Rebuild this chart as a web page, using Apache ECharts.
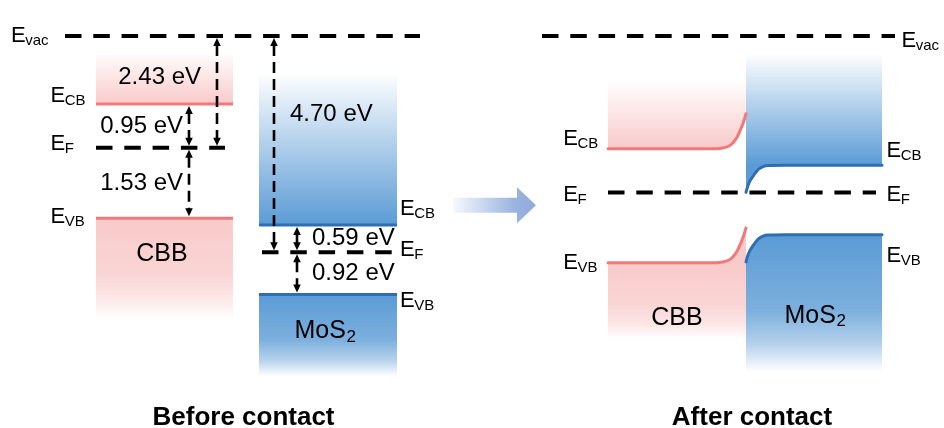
<!DOCTYPE html>
<html>
<head>
<meta charset="utf-8">
<title>CBB / MoS2 band alignment</title>
<script src="https://cdn.jsdelivr.net/npm/echarts@6/dist/echarts.min.js"></script>
<style>
  html, body { margin: 0; padding: 0; background: #fff; }
  #chart { width: 944px; height: 428px; }
</style>
</head>
<body>
<div id="chart"></div>
<script>
// ---------------- Band data (eV) ----------------
const materials = ['CBB', 'MoS'];                // MoS is followed by subscript 2
const workFunctions = [2.43, 4.70];              // E_vac - E_F before contact
const cbAboveFermi = [0.95, 0.59];               // E_CB - E_F
const vbBelowFermi = [1.53, 0.92];               // E_F - E_VB
const fermiAfterContact = -3.40;                 // common E_F after contact, vs. E_vac

// Band bending at the junction: distance from the interface and band shift (eV)
const cbbBendDistance = [0, 2.5, 5, 9, 13, 17, 22, 30, 50, 138];
const cbbBendShift    = [0.76, 0.58, 0.44, 0.25, 0.13, 0.06, 0.022, 0, 0, 0];
const mos2BendDistance = [0, 2, 4, 6.7, 10, 13, 17, 22, 40, 136];
const mos2BendShift    = [0.59, 0.44, 0.34, 0.25, 0.15, 0.08, 0.03, 0.005, 0, 0];

// ---------------- Derived levels ----------------
const fermiBefore = workFunctions.map(w => -w);
const cbBefore = fermiBefore.map((f, i) => f + cbAboveFermi[i]);
const vbBefore = fermiBefore.map((f, i) => f - vbBelowFermi[i]);
const cbAfter = cbAboveFermi.map(d => fermiAfterContact + d);
const vbAfter = vbBelowFermi.map(d => fermiAfterContact - d);

// ---------------- Layout (horizontal positions, band extents) ----------------
const L = {
  vacBefore: [65, 420], vacAfter: [542, 895],
  cbbBefore: [96, 233], mos2Before: [259, 397],
  fermiCbbBefore: [96, 225], fermiMos2Before: [262, 392],
  junction: 746, cbbAfterLeft: 608, mos2AfterRight: 882, fermiAfter: [608, 876],
  arrowWfCbb: 217, arrowWfMos2: 274, arrowGapCbb: 189, arrowGapMos2: 297,
  // fill extents (energy of faded edges)
  cbbBeforeTop: -0.35, cbbBeforeBottom: -6.15,
  mos2BeforeTop: -0.85, mos2BeforeBottom: -7.4,
  cbbAfterTop: -0.96, cbbAfterBottom: -6.6,
  mos2AfterTop: -0.42, mos2AfterBottom: -7.3,
  bigArrow: { x: [453, 517, 536], e: -3.68, shaftHalf: 7.5, headHalf: 18 }
};

const FONT = '"Liberation Sans", Arial, Helvetica, sans-serif';
const PINK_LINE = '#F3787A';
const BLUE_LINE = '#2F6EB4';
const PINK = '249,202,202';
const BLUE = '91,155,213';
const DASH_LEVEL = [16.5, 11.8];

// band-bending curves after contact (ascending x)
const cbbCbCurve = cbbBendDistance.map((d, i) => [L.junction - d, cbAfter[0] + cbbBendShift[i]]).reverse();
const cbbVbCurve = cbbBendDistance.map((d, i) => [L.junction - d, vbAfter[0] + cbbBendShift[i]]).reverse();
const mos2CbCurve = mos2BendDistance.map((d, i) => [L.junction + d, cbAfter[1] - mos2BendShift[i]]);
const mos2VbCurve = mos2BendDistance.map((d, i) => [L.junction + d, vbAfter[1] - mos2BendShift[i]]);

// ---------------- Fill regions ----------------
// each: polygon in (x, E), gradient from eFrom (opaque) to eTo (transparent)
function upperFill(x0, x1, eTop, edge, eLine, rgb) {
  const pts = [[x0, eTop], [x1, eTop]].concat(edge.slice().reverse());
  return { pts, eFrom: eLine, eTo: eTop, rgb, kind: 'upper' };
}
function lowerFill(x0, x1, eBottom, edge, eLine, rgb) {
  const pts = edge.slice().concat([[x1, eBottom], [x0, eBottom]]);
  return { pts, eFrom: eLine, eTo: eBottom, rgb, kind: 'lower' };
}
const flat = (x0, x1, e) => [[x0, e], [x1, e]];
const fills = [
  upperFill(L.cbbBefore[0], L.cbbBefore[1], L.cbbBeforeTop, flat(L.cbbBefore[0], L.cbbBefore[1], cbBefore[0]), cbBefore[0], PINK),
  lowerFill(L.cbbBefore[0], L.cbbBefore[1], L.cbbBeforeBottom, flat(L.cbbBefore[0], L.cbbBefore[1], vbBefore[0]), vbBefore[0], PINK),
  upperFill(L.mos2Before[0], L.mos2Before[1], L.mos2BeforeTop, flat(L.mos2Before[0], L.mos2Before[1], cbBefore[1]), cbBefore[1], BLUE),
  lowerFill(L.mos2Before[0], L.mos2Before[1], L.mos2BeforeBottom, flat(L.mos2Before[0], L.mos2Before[1], vbBefore[1]), vbBefore[1], BLUE),
  upperFill(L.cbbAfterLeft, L.junction, L.cbbAfterTop, cbbCbCurve, cbAfter[0], PINK),
  lowerFill(L.cbbAfterLeft, L.junction, L.cbbAfterBottom, cbbVbCurve, vbAfter[0], PINK),
  upperFill(L.junction, L.mos2AfterRight, L.mos2AfterTop, mos2CbCurve, cbAfter[1], BLUE),
  lowerFill(L.junction, L.mos2AfterRight, L.mos2AfterBottom, mos2VbCurve, vbAfter[1], BLUE)
];

// ---------------- Arrows with values ----------------
const arrowRows = [
  [L.arrowWfCbb, 0, fermiBefore[0]],
  [L.arrowWfMos2, 0, fermiBefore[1]],
  [L.arrowGapCbb, cbBefore[0], fermiBefore[0]],
  [L.arrowGapCbb, fermiBefore[0], vbBefore[0]],
  [L.arrowGapMos2, cbBefore[1], fermiBefore[1]],
  [L.arrowGapMos2, fermiBefore[1], vbBefore[1]]
];
const arrowValues = [workFunctions[0], workFunctions[1], cbAboveFermi[0], vbBelowFermi[0], cbAboveFermi[1], vbBelowFermi[1]];
const arrowLabelPlace = [
  { align: 'right', dx: -16, dy: -15 },
  { align: 'left', dx: 16, dy: -30 },
  { align: 'right', dx: -6, dy: 0 },
  { align: 'right', dx: -6, dy: 0 },
  { align: 'left', dx: 15, dy: 0 },
  { align: 'left', dx: 15, dy: 0 }
];

// ---------------- Level labels ----------------
const levelLabels = [
  { x: 11, e: 0, sub: 'vac', dy: 0 },
  { x: 50.5, e: cbBefore[0], sub: 'CB', dy: -8 },
  { x: 50.5, e: fermiBefore[0], sub: 'F', dy: -4 },
  { x: 50.5, e: vbBefore[0], sub: 'VB', dy: -1 },
  { x: 400, e: cbBefore[1], sub: 'CB', dy: -16 },
  { x: 400, e: fermiBefore[1], sub: 'F', dy: -2 },
  { x: 400, e: vbBefore[1], sub: 'VB', dy: 6 },
  { x: 901.5, e: 0, sub: 'vac', dy: 5 },
  { x: 563.3, e: cbAfter[0], sub: 'CB', dy: -10 },
  { x: 563.3, e: fermiAfterContact, sub: 'F', dy: 2.5 },
  { x: 563.3, e: vbAfter[0], sub: 'VB', dy: 0 },
  { x: 886.5, e: cbAfter[1], sub: 'CB', dy: -14 },
  { x: 886.5, e: fermiAfterContact, sub: 'F', dy: 2.5 },
  { x: 886.5, e: vbAfter[1], sub: 'VB', dy: 21 }
];
const nameLabels = [
  { cx: 162, e: vbBefore[0], dy: 36, name: 0 },
  { cx: 325, e: vbBefore[1], dy: 37, name: 1 },
  { cx: 677, e: vbAfter[0], dy: 55, name: 0 },
  { cx: 815, e: vbAfter[1], dy: 81, name: 1 }
];

// ---------------- Series helpers ----------------
function levelLine(data, color, width, dash, z) {
  return {
    type: 'line', data, symbol: 'none', silent: true, animation: false, z: z || 3,
    lineStyle: { color, width, type: dash || 'solid', cap: 'butt' }
  };
}
function curveLine(data, color) {
  return {
    type: 'line', data, symbol: 'none', silent: true, animation: false, z: 3,
    smooth: 0.35,
    lineStyle: { color, width: 3, cap: 'round' }
  };
}

const chart = echarts.init(document.getElementById('chart'), null, { renderer: 'canvas' });

const series = [
  // gradient-filled band regions
  {
    type: 'custom', silent: true, animation: false, z: 1,
    data: fills.map((f, i) => [i]),
    renderItem(params, api) {
      const f = fills[params.dataIndex];
      const pts = f.pts.map(p => api.coord(p));
      const yFrom = api.coord([0, f.eFrom])[1];
      const yTo = api.coord([0, f.eTo])[1];
      const stops = f.kind === 'upper'
        ? [{ offset: 0, color: `rgba(${f.rgb},1)` }, { offset: 0.45, color: `rgba(${f.rgb},0.56)` }, { offset: 1, color: `rgba(${f.rgb},0.02)` }]
        : [{ offset: 0, color: `rgba(${f.rgb},1)` }, { offset: 0.55, color: `rgba(${f.rgb},0.8)` }, { offset: 0.8, color: `rgba(${f.rgb},0.45)` }, { offset: 1, color: `rgba(${f.rgb},0)` }];
      return {
        type: 'polygon',
        shape: { points: pts },
        style: { fill: new echarts.graphic.LinearGradient(0, yFrom, 0, yTo, stops, true) }
      };
    }
  },
  // vacuum and Fermi levels
  levelLine(flat(L.vacBefore[0], L.vacBefore[1], 0), '#000', 4, DASH_LEVEL),
  levelLine(flat(L.vacAfter[0], L.vacAfter[1], 0), '#000', 4, DASH_LEVEL),
  levelLine(flat(L.fermiCbbBefore[0], L.fermiCbbBefore[1], fermiBefore[0]), '#000', 4, DASH_LEVEL),
  levelLine(flat(L.fermiMos2Before[0], L.fermiMos2Before[1], fermiBefore[1]), '#000', 4, DASH_LEVEL),
  levelLine(flat(L.fermiAfter[0], L.fermiAfter[1], fermiAfterContact), '#000', 4, DASH_LEVEL),
  // band edges before contact
  levelLine(flat(L.cbbBefore[0], L.cbbBefore[1], cbBefore[0]), PINK_LINE, 3),
  levelLine(flat(L.cbbBefore[0], L.cbbBefore[1], vbBefore[0]), PINK_LINE, 3),
  levelLine(flat(L.mos2Before[0], L.mos2Before[1], cbBefore[1]), BLUE_LINE, 3),
  levelLine(flat(L.mos2Before[0], L.mos2Before[1], vbBefore[1]), BLUE_LINE, 3),
  // bent bands after contact
  curveLine(cbbCbCurve, PINK_LINE),
  curveLine(cbbVbCurve, PINK_LINE),
  curveLine(mos2CbCurve, BLUE_LINE),
  curveLine(mos2VbCurve, BLUE_LINE),
  // energy arrows with values
  {
    type: 'custom', silent: true, animation: false, z: 5,
    data: arrowRows,
    renderItem(params, api) {
      const i = params.dataIndex;
      const x = api.coord([api.value(0), 0])[0];
      const y1 = api.coord([0, api.value(1)])[1];
      const y2 = api.coord([0, api.value(2)])[1];
      const t1 = y1 + 2, t2 = y2 - 2, hh = 8, hw = 3.8;
      const place = arrowLabelPlace[i];
      return {
        type: 'group',
        children: [
          { type: 'line', shape: { x1: x, y1: t1 + hh - 1, x2: x, y2: t2 - hh + 1 },
            style: { stroke: '#000', lineWidth: 2.6, lineDash: [11, 6] } },
          { type: 'polygon', shape: { points: [[x, t1], [x - hw, t1 + hh], [x + hw, t1 + hh]] }, style: { fill: '#000' } },
          { type: 'polygon', shape: { points: [[x, t2], [x - hw, t2 - hh], [x + hw, t2 - hh]] }, style: { fill: '#000' } },
          { type: 'text', x: x + place.dx, y: (y1 + y2) / 2 + place.dy,
            style: { text: arrowValues[i].toFixed(2) + ' eV', fontSize: 24, fontFamily: FONT, fill: '#000',
                     align: place.align, verticalAlign: 'middle' } }
        ]
      };
    }
  },
  // level labels E_xx
  {
    type: 'custom', silent: true, animation: false, z: 6,
    data: levelLabels.map(l => [l.x, l.e]),
    renderItem(params, api) {
      const l = levelLabels[params.dataIndex];
      const p = api.coord([api.value(0), api.value(1)]);
      const y = p[1] + l.dy;
      return {
        type: 'group',
        children: [
          { type: 'text', x: p[0], y, style: { text: 'E', fontSize: 22, fontFamily: FONT, fill: '#000', align: 'left', verticalAlign: 'middle' } },
          { type: 'text', x: p[0] + 14.2, y: y + 5, style: { text: l.sub, fontSize: 15, fontFamily: FONT, fill: '#000', align: 'left', verticalAlign: 'middle' } }
        ]
      };
    }
  },
  // material names
  {
    type: 'custom', silent: true, animation: false, z: 6,
    data: nameLabels.map(n => [n.cx, n.e]),
    renderItem(params, api) {
      const n = nameLabels[params.dataIndex];
      const p = api.coord([api.value(0), api.value(1)]);
      const y = p[1] + n.dy;
      if (n.name === 0) {
        return { type: 'text', x: p[0], y, style: { text: materials[0], fontSize: 25, fontFamily: FONT, fill: '#000', align: 'center', verticalAlign: 'middle' } };
      }
      const left = p[0] - 30.5;
      return {
        type: 'group',
        children: [
          { type: 'text', x: left, y, style: { text: materials[1], fontSize: 25, fontFamily: FONT, fill: '#000', align: 'left', verticalAlign: 'middle' } },
          { type: 'text', x: left + 52, y: y + 6, style: { text: '2', fontSize: 17, fontFamily: FONT, fill: '#000', align: 'left', verticalAlign: 'middle' } }
        ]
      };
    }
  },
  // transition arrow between the two diagrams
  {
    type: 'custom', silent: true, animation: false, z: 2,
    data: [[L.bigArrow.x[0], L.bigArrow.e]],
    renderItem(params, api) {
      const a = L.bigArrow;
      const yc = api.coord([0, api.value(1)])[1];
      const x0 = api.coord([api.value(0), 0])[0];
      const xn = api.coord([a.x[1], 0])[0];
      const xt = api.coord([a.x[2], 0])[0];
      return {
        type: 'polygon',
        shape: { points: [[x0, yc - a.shaftHalf], [xn, yc - a.shaftHalf], [xn, yc - a.headHalf], [xt, yc],
                          [xn, yc + a.headHalf], [xn, yc + a.shaftHalf], [x0, yc + a.shaftHalf]] },
        style: { fill: new echarts.graphic.LinearGradient(0, 0, 1, 0, [
          { offset: 0, color: 'rgba(143,170,220,0.08)' },
          { offset: 0.75, color: 'rgba(143,170,220,0.9)' },
          { offset: 1, color: 'rgba(143,170,220,1)' }
        ]) }
      };
    }
  }
];

chart.setOption({
  backgroundColor: '#fff',
  animation: false,
  grid: { left: 0, right: 0, top: 13, height: 414 },
  xAxis: { type: 'value', min: 0, max: 944, show: false, splitLine: { show: false }, axisLabel: { show: false } },
  yAxis: { type: 'value', min: -8.5, max: 0.5, show: false, splitLine: { show: false }, axisLabel: { show: false } },
  graphic: [
    { type: 'text', x: 243.5, y: 417.5, style: { text: 'Before contact', fontSize: 26, fontWeight: 'bold', fontFamily: FONT, fill: '#000', align: 'center', verticalAlign: 'middle' } },
    { type: 'text', x: 752, y: 417.5, style: { text: 'After contact', fontSize: 26, fontWeight: 'bold', fontFamily: FONT, fill: '#000', align: 'center', verticalAlign: 'middle' } }
  ],
  series
});
</script>
</body>
</html>
